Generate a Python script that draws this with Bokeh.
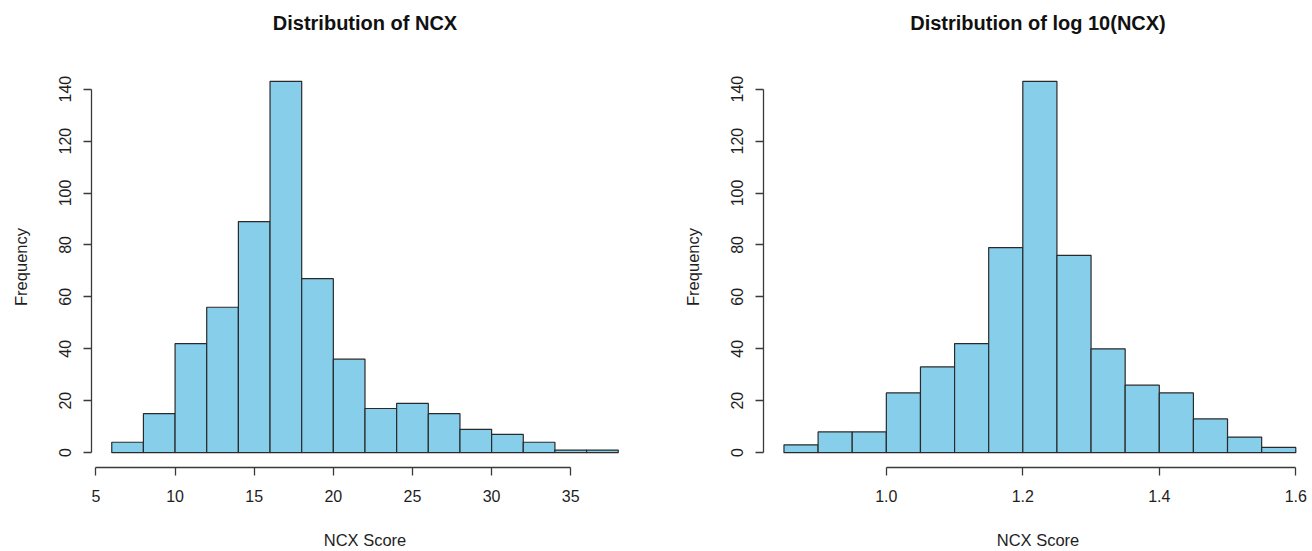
from bokeh.plotting import figure
from bokeh.layouts import row
from bokeh.models import Range1d, FixedTicker, NumeralTickFormatter, Title
from bokeh.embed import file_html
from bokeh.resources import INLINE

# ---- data ----
ncx_edges = [6, 8, 10, 12, 14, 16, 18, 20, 22, 24, 26, 28, 30, 32, 34, 36, 38]
ncx_counts = [4, 15, 42, 56, 89, 143, 67, 36, 17, 19, 15, 9, 7, 4, 1, 1]

log_edges = [0.85, 0.90, 0.95, 1.00, 1.05, 1.10, 1.15, 1.20, 1.25, 1.30,
             1.35, 1.40, 1.45, 1.50, 1.55, 1.60]
log_counts = [3, 8, 8, 23, 33, 42, 79, 143, 76, 40, 26, 23, 13, 6, 2]

ncx_xticks = [5, 10, 15, 20, 25, 30, 35]
log_xticks = [1.0, 1.2, 1.4, 1.6]
yticks = [0, 20, 40, 60, 80, 100, 120, 140]

titles = ["Distribution of NCX", "Distribution of log 10(NCX)"]
xlabel = "NCX Score"
ylabel = "Frequency"

FONT = "Liberation Sans"
TXT = "#1e1e1e"
AX = "#3a3a3a"
FILL = "#87CEEB"
EDGE = "#2a2a2a"


def style(p, xticks, xbounds, title_text):
    p.grid.visible = False
    p.outline_line_color = None
    p.background_fill_color = "white"
    p.border_fill_color = "white"
    for ax in (p.xaxis[0], p.yaxis[0]):
        ax.axis_line_color = AX
        ax.axis_line_width = 1.3
        ax.major_tick_line_color = AX
        ax.major_tick_line_width = 1.3
        ax.major_tick_in = 0
        ax.major_tick_out = 8
        ax.minor_tick_line_color = None
        ax.major_label_text_font = FONT
        ax.major_label_text_font_size = "16px"
        ax.major_label_text_color = TXT
        ax.axis_label_text_font = FONT
        ax.axis_label_text_font_size = "16.5px"
        ax.axis_label_text_font_style = "normal"
        ax.axis_label_text_color = TXT
    p.xaxis[0].ticker = FixedTicker(ticks=xticks)
    p.xaxis[0].bounds = xbounds
    p.xaxis[0].major_label_standoff = 14
    p.xaxis[0].axis_label_standoff = 26
    p.xaxis[0].axis_label = xlabel
    p.yaxis[0].ticker = FixedTicker(ticks=yticks)
    p.yaxis[0].bounds = (0, 140)
    p.yaxis[0].major_label_orientation = "vertical"
    p.yaxis[0].major_label_standoff = 12
    p.yaxis[0].axis_label_standoff = 27
    p.yaxis[0].axis_label = ylabel
    # real title (outermost) and an invisible spacer title next to the frame
    p.title.text = title_text
    p.title.align = "center"
    p.title.text_font = FONT
    p.title.text_font_size = "20px"
    p.title.text_font_style = "bold"
    p.title.text_color = "#111111"
    p.title.standoff = 0
    spacer = Title(text=" ", text_font_size="28px", standoff=0)
    p.add_layout(spacer, "above")


ymax = max(max(ncx_counts), max(log_counts))
y0 = -0.04 * ymax
y1 = ymax * 1.04

# left histogram
span1 = ncx_edges[-1] - ncx_edges[0]
p1 = figure(width=672, height=551, output_backend="svg", toolbar_location=None,
            x_range=Range1d(ncx_edges[0] - 0.04 * span1, ncx_edges[-1] + 0.04 * span1),
            y_range=Range1d(y0, y1),
            min_border_left=91, min_border_right=34, min_border_top=66,
            min_border_bottom=84)
p1.quad(left=ncx_edges[:-1], right=ncx_edges[1:], top=ncx_counts, bottom=0,
        fill_color=FILL, line_color=EDGE, line_width=1.2)
style(p1, ncx_xticks, (5, 35), titles[0])

# right histogram
span2 = log_edges[-1] - log_edges[0]
p2 = figure(width=640, height=551, output_backend="svg", toolbar_location=None,
            x_range=Range1d(log_edges[0] - 0.04 * span2, log_edges[-1] + 0.0245),
            y_range=Range1d(y0, y1),
            min_border_left=91, min_border_right=0, min_border_top=66,
            min_border_bottom=84)
p2.quad(left=log_edges[:-1], right=log_edges[1:], top=log_counts, bottom=0,
        fill_color=FILL, line_color=EDGE, line_width=1.2)
style(p2, log_xticks, (1.0, 1.6), titles[1])
p2.xaxis[0].formatter = NumeralTickFormatter(format="0.0")

layout = row(p1, p2)
open("out.html", "w").write(file_html(layout, INLINE))
